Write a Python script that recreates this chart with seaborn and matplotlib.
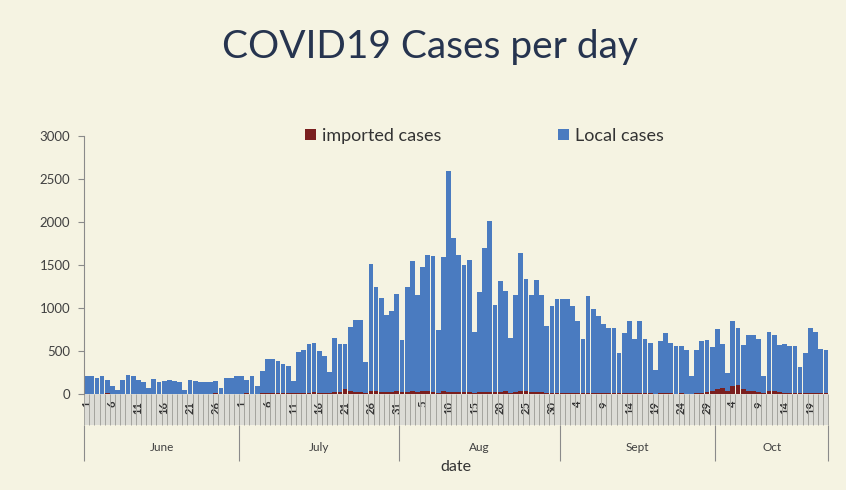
import numpy as np
import pandas as pd
import matplotlib.pyplot as plt
import seaborn as sns

months = ["June", "July", "Aug", "Sept", "Oct"]
month_days = [30, 31, 31, 30, 22]

local_june = [210, 200, 180, 210, 160, 85, 45, 160, 220, 200, 160, 140, 65, 170, 140,
              140, 160, 150, 130, 45, 155, 150, 140, 140, 140, 150, 65, 180, 180, 200]
local_july = [200, 160, 200, 85, 260, 395, 395, 375, 340, 320, 140, 470, 490, 570, 570, 490,
              430, 240, 630, 550, 530, 745, 840, 840, 360, 1480, 1210, 1090, 900, 940, 1130]
local_aug = [610, 1210, 1520, 1130, 1440, 1580, 1580, 725, 1560, 2570, 1790, 1600, 1480, 1540, 705,
             1170, 1670, 1985, 1015, 1290, 1170, 630, 1130, 1600, 1300, 1130, 1300, 1130, 780, 1015, 1090]
local_sept = [1090, 1090, 1015, 840, 630, 1130, 980, 900, 800, 760, 760, 470, 705, 840, 630,
              840, 630, 590, 280, 610, 705, 590, 550, 550, 510, 200, 510, 610, 610, 510]
local_oct = [690, 510, 200, 760, 670, 510, 650, 650, 610, 200, 690, 650, 550, 570, 550,
             550, 300, 470, 760, 705, 510, 500]

imported_june = [3, 5, 2, 4, 6, 2, 1, 3, 5, 4, 3, 2, 1, 4, 3, 5, 2, 3, 4, 1, 3, 5, 4, 2, 3, 6, 2, 4, 5, 3]
imported_july = [5, 6, 4, 3, 8, 10, 12, 9, 8, 10, 6, 14, 15, 12, 18, 14, 12, 10, 20, 25, 55, 30,
                 25, 22, 15, 35, 30, 28, 22, 25, 30]
imported_aug = [20, 28, 30, 25, 35, 30, 28, 15, 30, 25, 22, 20, 18, 20, 15, 18, 20, 25, 18, 22, 30,
                15, 20, 40, 30, 25, 20, 18, 15, 12, 14]
imported_sept = [12, 10, 10, 8, 6, 10, 9, 8, 12, 10, 8, 6, 8, 10, 6, 8, 7, 6, 4, 6, 8, 6, 5, 6,
                 5, 3, 6, 8, 20, 30]
imported_oct = [60, 70, 40, 90, 100, 60, 40, 30, 25, 10, 35, 30, 20, 15, 12, 10, 8, 10, 12, 10, 8, 6]

local = np.array(local_june + local_july + local_aug + local_sept + local_oct)
imported = np.array(imported_june + imported_july + imported_aug + imported_sept + imported_oct)
day_of_month = np.concatenate([np.arange(1, n + 1) for n in month_days])
month_idx = np.repeat(np.arange(len(months)), month_days)
n = len(local)

df = pd.DataFrame({
    "date": [f"{months[m]} {d}" for m, d in zip(month_idx, day_of_month)],
    "local": local,
    "imported": imported,
})
df["total"] = df["local"] + df["imported"]

bg = "#f5f3e2"
blue = "#4a7bc0"
red = "#7a1f1f"

sns.set_style("white")
plt.rcParams["font.family"] = ["Lato", "DejaVu Sans"]

fig = plt.figure(figsize=(8.46, 4.90), dpi=100, facecolor=bg)
ax = fig.add_axes([0.0993, 0.196, 0.880, 0.527])
ax.set_facecolor(bg)

order = list(df["date"])
sns.barplot(data=df, x="date", y="total", order=order, color=blue, saturation=1,
            width=0.92, linewidth=0, ax=ax, label="Local cases")
sns.barplot(data=df, x="date", y="imported", order=order, color=red, saturation=1,
            width=0.92, linewidth=0, ax=ax, label="imported cases")

ax.set_xlim(-0.5, n - 0.5)
ax.set_ylim(0, 3000)
ax.set_yticks(np.arange(0, 3001, 500))
ax.tick_params(axis="y", left=True, direction="out", length=4, color="#8a8a8a", labelsize=9.5,
               labelcolor="#404040", pad=6)
for s in ["top", "right", "bottom"]:
    ax.spines[s].set_visible(False)
ax.spines["left"].set_color("#8a8a8a")
ax.set_ylabel("")

# gray band with day labels
band = plt.Rectangle((0, -0.12), 1, 0.12, transform=ax.transAxes, facecolor="#dcdcd6",
                     edgecolor="none", clip_on=False, zorder=0)
ax.add_patch(band)
ax.set_xticks(np.arange(0, n, 5))
ax.set_xticklabels([str(d) for d in day_of_month[::5]], rotation=90, fontsize=8,
                   color="#333333", fontweight="bold")
ax.tick_params(axis="x", which="major", length=0, pad=5)
ax.set_xticks(np.arange(-0.5, n, 1), minor=True)
ax.tick_params(axis="x", which="minor", bottom=True, length=22, width=0.7, color="#a4a49e",
               direction="out")

# month level
bounds = np.concatenate([[0], np.cumsum(month_days)]) - 0.5
centers = (bounds[:-1] + bounds[1:]) / 2
sec = ax.secondary_xaxis(-0.12)
sec.spines["bottom"].set_visible(False)
sec.set_xticks(bounds)
sec.set_xticklabels([""] * len(bounds))
sec.tick_params(axis="x", which="major", bottom=True, length=26, width=0.8, color="#8a8a8a",
                direction="out")
sec.set_xticks(centers, minor=True)
sec.set_xticklabels(months, minor=True, fontsize=8.5, color="#404040")
sec.tick_params(axis="x", which="minor", length=0, pad=12)

ax.set_xlabel("date", fontsize=11.5, color="#333333", labelpad=22)

handles, labels = ax.get_legend_handles_labels()
lut = dict(zip(labels, handles))
ax.legend([lut["imported cases"], lut["Local cases"]], ["imported cases", "Local cases"],
          loc="center", bbox_to_anchor=(0.538, 1.0), ncol=2, frameon=False, fontsize=13,
          handlelength=0.6, handleheight=0.6, handletextpad=0.3, columnspacing=6.5,
          labelcolor="#333333")

fig.text(0.508, 0.905, "COVID19 Cases per day", ha="center", va="center", fontsize=28,
         color="#26344f")

fig.savefig("out.png", dpi=100, facecolor=bg)
